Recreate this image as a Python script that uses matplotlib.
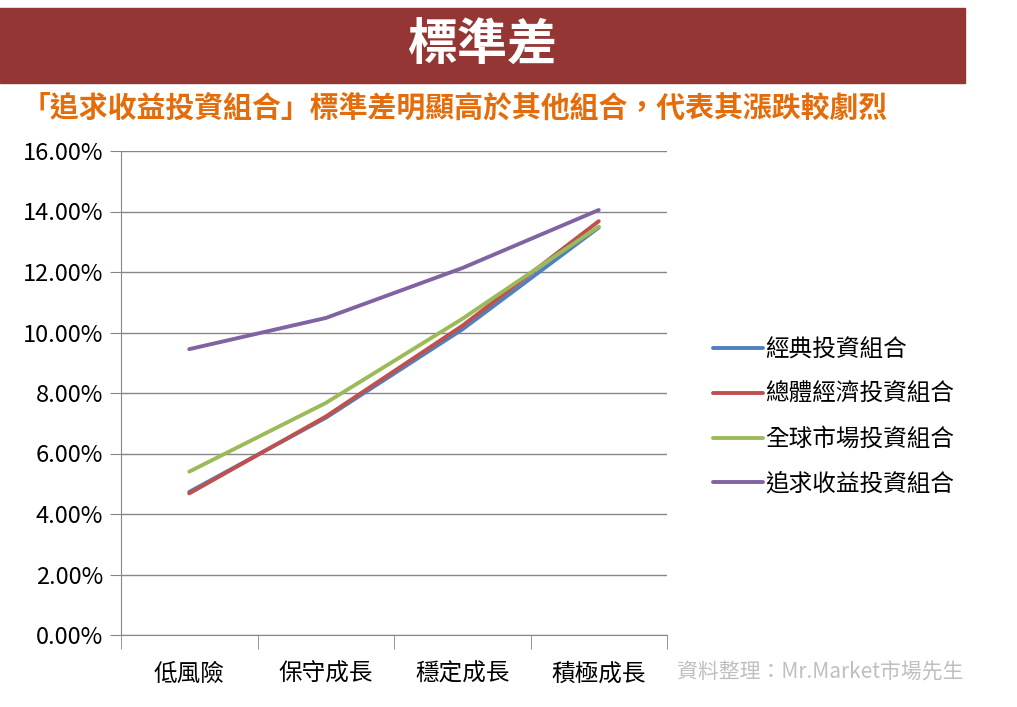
import matplotlib.pyplot as plt
from matplotlib.patches import Rectangle
from matplotlib.ticker import FuncFormatter, FixedLocator

plt.rcParams['font.family'] = ['Noto Sans CJK TC', 'DejaVu Sans']

categories = ['低風險', '保守成長', '穩定成長', '積極成長']
series_names = ['經典投資組合', '總體經濟投資組合', '全球市場投資組合', '追求收益投資組合']
classic = [4.73, 7.18, 10.10, 13.47]
macro = [4.68, 7.22, 10.22, 13.68]
global_mkt = [5.40, 7.67, 10.45, 13.50]
income = [9.45, 10.48, 12.13, 14.05]
colors = ['#4F81BD', '#C0504D', '#9BBB59', '#8064A2']

title = '標準差'
subtitle = '「追求收益投資組合」標準差明顯高於其他組合，代表其漲跌較劇烈'
source = '資料整理：Mr.Market市場先生'

fig = plt.figure(figsize=(10.17, 7.07), dpi=100)

# banner
fig.patches.append(Rectangle((0, 1 - 83 / 707), 965 / 1017, 75 / 707,
                             transform=fig.transFigure, color='#943634', zorder=0))
fig.text(482 / 1017, 1 - 46 / 707, title, color='white', fontsize=36,
         fontweight='bold', ha='center', va='center')
fig.text(22 / 1017, 1 - 108 / 707, subtitle, color='#E46C0A', fontsize=20.8,
         fontweight='bold', ha='left', va='center')

ax = fig.add_axes([121 / 1017, 72 / 707, 546 / 1017, 484 / 707])
x = range(len(categories))
for vals, name, c in zip([classic, macro, global_mkt, income], series_names, colors):
    ax.plot(x, vals, color=c, lw=2.8, label=name, solid_capstyle='round')

ax.set_xlim(-0.5, 3.5)
ax.set_ylim(0, 16)
ax.set_yticks(range(0, 17, 2))
ax.yaxis.set_major_formatter(FuncFormatter(lambda v, p: f'{v:.2f}%'))
ax.grid(axis='y', color='#868686', lw=1)
ax.set_axisbelow(True)

ax.set_xticks(list(x))
ax.set_xticklabels(categories)
ax.xaxis.set_minor_locator(FixedLocator([-0.5, 0.5, 1.5, 2.5, 3.5]))
ax.tick_params(axis='x', which='major', length=0, pad=20, labelsize=17)
ax.tick_params(axis='x', which='minor', length=10, color='#868686', direction='out')
ax.tick_params(axis='y', length=8, color='#868686', labelsize=17, pad=5)

for s in ['top', 'right']:
    ax.spines[s].set_visible(False)
ax.spines['left'].set_color('#868686')
ax.spines['bottom'].set_color('#868686')

fig.legend(loc='center left', bbox_to_anchor=(692 / 1017, 1 - 417 / 707),
           frameon=False, fontsize=17, handlelength=2.1, handletextpad=0.1,
           labelspacing=0.92)

fig.text(677 / 1017, 1 - 673 / 707, source, color='#BFBFBF', fontsize=15,
         ha='left', va='center')

fig.savefig('out.png', dpi=100)
